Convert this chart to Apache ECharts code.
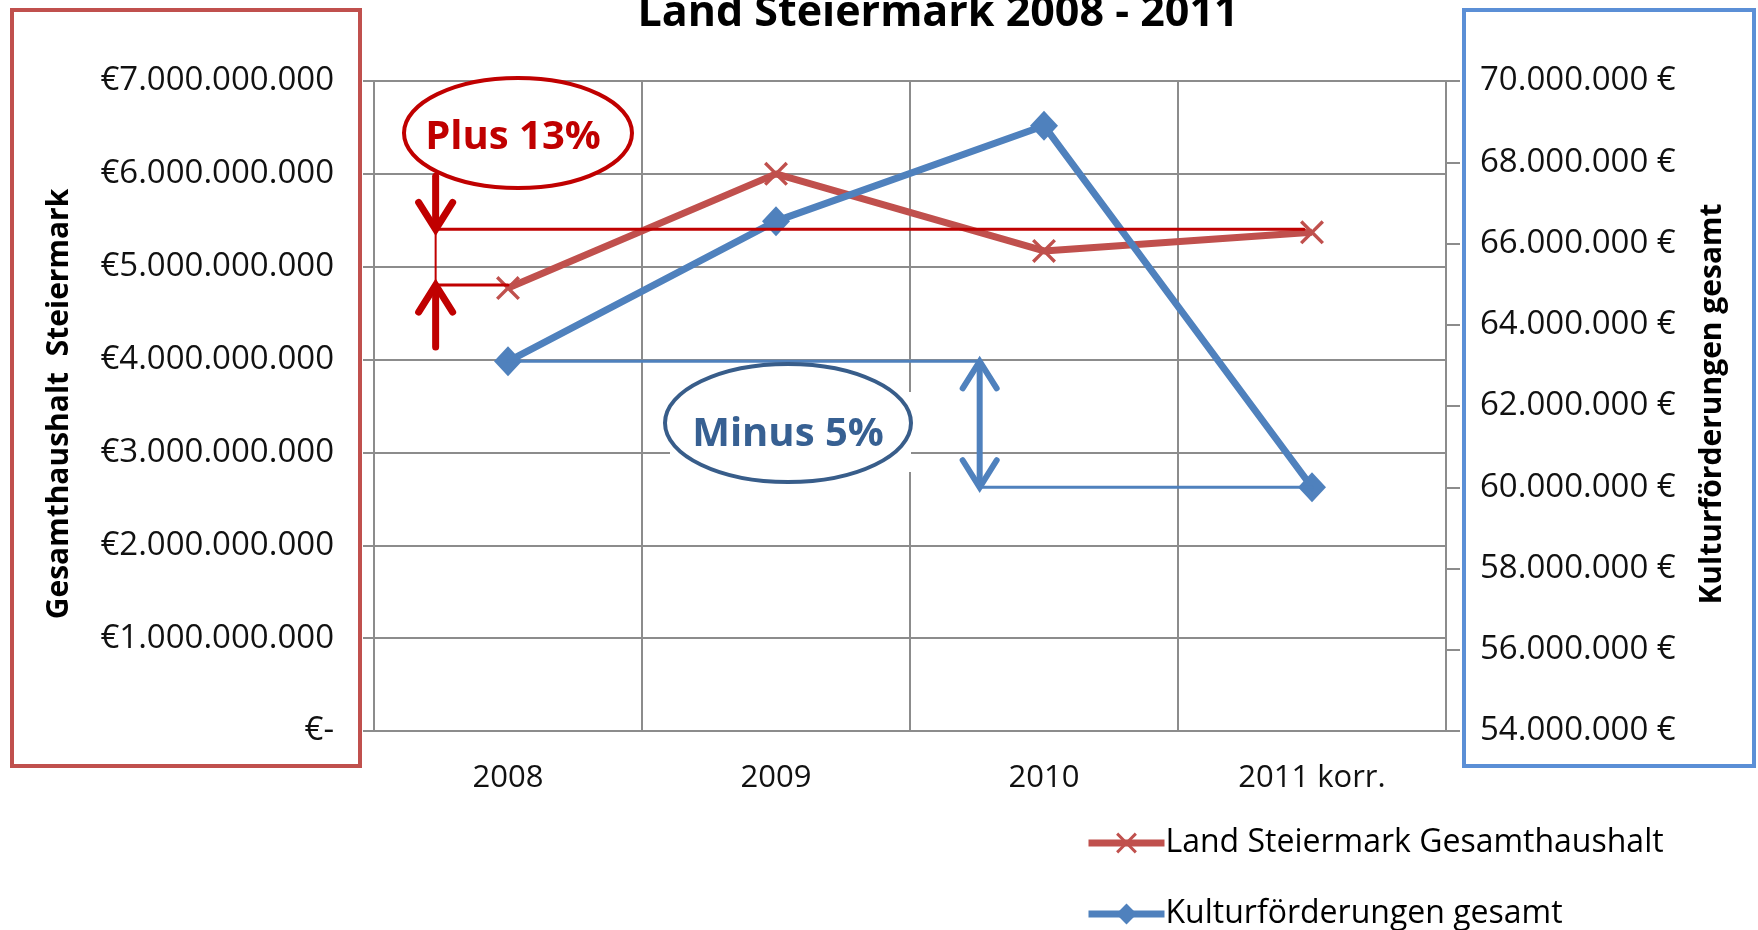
<!DOCTYPE html>
<html>
<head>
<meta charset="utf-8">
<script src="https://cdn.jsdelivr.net/npm/echarts@6/dist/echarts.min.js"></script>
<style>
    html, body { margin: 0; padding: 0; background: #fff; }
    #chart { width: 1758px; height: 930px; }
</style>
</head>
<body>
<div id="chart"></div>
<script>
// Daten
const categories = ['2008', '2009', '2010', '2011 korr.']
const haushalt = [4770000000, 6000000000, 5170000000, 5370000000]
const kultur = [63100000, 66550000, 68900000, 60000000]
const leftAxisRange = [0, 7000000000, 1000000000]
const rightAxisRange = [54000000, 70000000, 2000000]
const seriesNames = ['Land Steiermark Gesamthaushalt', 'Kulturförderungen gesamt']
const axisNames = ['Gesamthaushalt  Steiermark', 'Kulturförderungen gesamt']
const notes = ['Plus 13%', 'Minus 5%']

const FONT = 'Open Sans'
const RED = '#C0504D'
const BLUE = '#4F81BD'
const GRID = '#8C8C8C'

function dots(n) {
    return String(n).replace(/\B(?=(\d{3})+(?!\d))/g, '.')
}

const chart = echarts.init(document.getElementById('chart'))

const legendBase = {
    left: 1080,
    itemWidth: 76,
    itemHeight: 26,
    lineStyle: { width: 7 },
    textStyle: { fontSize: 32, color: '#000', fontFamily: FONT, padding: [0, 0, 0, -4] }
}

chart.setOption({
    animation: false,
    backgroundColor: '#fff',
    textStyle: { fontFamily: FONT },
    grid: { left: 374, right: 312, top: 81, bottom: 199 },
    legend: [
        Object.assign({ top: 822, data: [seriesNames[0]] }, legendBase),
        Object.assign({ top: 893, data: [seriesNames[1]] }, legendBase)
    ],
    xAxis: {
        type: 'category',
        data: categories,
        boundaryGap: true,
        axisLine: { lineStyle: { color: GRID, width: 2 } },
        axisTick: { show: false },
        splitLine: { show: true, lineStyle: { color: GRID, width: 2 } },
        axisLabel: { fontSize: 31, color: '#111', margin: 32, fontFamily: FONT }
    },
    yAxis: [{
        type: 'value',
        min: leftAxisRange[0],
        max: leftAxisRange[1],
        interval: leftAxisRange[2],
        axisLine: { show: true, lineStyle: { color: GRID, width: 2 } },
        axisTick: { show: true, length: 11, lineStyle: { color: GRID, width: 2 } },
        splitLine: { lineStyle: { color: GRID, width: 2 } },
        axisLabel: {
            fontSize: 33, color: '#111', margin: 40, fontFamily: FONT,
            formatter: v => v === 0 ? '€-' : '€' + dots(v)
        }
    }, {
        type: 'value',
        min: rightAxisRange[0],
        max: rightAxisRange[1],
        interval: rightAxisRange[2],
        axisLine: { show: true, lineStyle: { color: GRID, width: 2 } },
        axisTick: { show: true, length: 14, lineStyle: { color: GRID, width: 2 } },
        splitLine: { show: false },
        axisLabel: {
            fontSize: 33, color: '#111', margin: 34, fontFamily: FONT,
            formatter: v => dots(v) + ' €'
        }
    }],
    series: [{
        name: seriesNames[0],
        type: 'line',
        yAxisIndex: 0,
        data: haushalt,
        symbol: 'path://M0,1L1,0L5,4L9,0L10,1L6,5L10,9L9,10L5,6L1,10L0,9L4,5Z',
        symbolSize: 24,
        lineStyle: { color: RED, width: 7 },
        itemStyle: { color: RED },
        z: 3
    }, {
        name: seriesNames[1],
        type: 'line',
        yAxisIndex: 1,
        data: kultur,
        symbol: 'diamond',
        symbolSize: [28, 30],
        lineStyle: { color: BLUE, width: 7 },
        itemStyle: { color: BLUE },
        z: 3
    }]
})

// Hilfslinien und Beschriftungen
function xAt(idx) {
    const i = Math.floor(idx)
    const a = chart.convertToPixel({ xAxisIndex: 0 }, i)
    const b = chart.convertToPixel({ xAxisIndex: 0 }, i + 1)
    return a + (b - a) * (idx - i)
}
function yLeft(v) { return chart.convertToPixel({ yAxisIndex: 0 }, v) }
function yRight(v) { return chart.convertToPixel({ yAxisIndex: 1 }, v) }

function line(x1, y1, x2, y2, color, w) {
    return { type: 'line', z: 10, shape: { x1, y1, x2, y2 }, style: { stroke: color, lineWidth: w, lineCap: 'round' } }
}
function head(x, y, dir, color, w) {
    // dir 1 = Spitze unten, -1 = Spitze oben
    return {
        type: 'polyline', z: 10,
        shape: { points: [[x - 17, y - dir * 27], [x, y], [x + 17, y - dir * 27]] },
        style: { stroke: color, lineWidth: w, lineCap: 'round', lineJoin: 'miter', fill: null }
    }
}

const xr = xAt(-0.27)
const yTop = yLeft(haushalt[3]) - 3
const yLow = yLeft(haushalt[0]) - 3
const xb = xAt(1.76)
const yB1 = yRight(kultur[0])
const yB2 = yRight(kultur[3])

chart.setOption({
    graphic: [
        // Rahmen
        { type: 'rect', z: 1, shape: { x: 12, y: 10, width: 348, height: 756 }, style: { fill: null, stroke: RED, lineWidth: 4 } },
        { type: 'rect', z: 1, shape: { x: 1464, y: 10, width: 290, height: 756 }, style: { fill: null, stroke: '#5B8FD6', lineWidth: 4 } },
        // Titel
        { type: 'text', z: 10, x: 938, y: 35, style: { text: 'Land Steiermark 2008 - 2011', font: 'bold 43px "' + FONT + '"', fill: '#000', align: 'center', verticalAlign: 'bottom' } },
        // Achsentitel
        { type: 'text', z: 10, x: 59, y: 404, rotation: Math.PI / 2, style: { text: axisNames[0], font: 'bold 30px "' + FONT + '"', fill: '#000', align: 'center', verticalAlign: 'middle' } },
        { type: 'text', z: 10, x: 1712, y: 404, rotation: Math.PI / 2, style: { text: axisNames[1], font: 'bold 30px "' + FONT + '"', fill: '#000', align: 'center', verticalAlign: 'middle' } },
        // Plus 13%
        line(xr, yTop, xAt(3) - 8, yTop, '#C00000', 3),
        line(xr, yLow, xAt(0), yLow, '#C00000', 3),
        line(xr, yTop, xr, yLow, '#C00000', 2),
        line(xr, yTop - 53, xr, yTop - 3, '#C00000', 7),
        head(xr, yTop, 1, '#C00000', 7),
        line(xr, yLow + 3, xr, yLow + 62, '#C00000', 7),
        head(xr, yLow, -1, '#C00000', 7),
        { type: 'ellipse', z: 10, shape: { cx: 518, cy: 133, rx: 114, ry: 55 }, style: { fill: '#fff', stroke: '#C00000', lineWidth: 4 } },
        { type: 'text', z: 11, x: 513, y: 138, style: { text: notes[0], font: 'bold 40px "' + FONT + '"', fill: '#C00000', align: 'center', verticalAlign: 'middle' } },
        // Minus 5%
        line(xAt(0), yB1, xb, yB1, BLUE, 3),
        line(xb, yB2, xAt(3), yB2, BLUE, 3),
        line(xb, yB1 + 3, xb, yB2 - 3, BLUE, 6),
        head(xb, yB1, -1, BLUE, 6),
        head(xb, yB2, 1, BLUE, 6),
        { type: 'rect', z: 9, shape: { x: 670, y: 392, width: 241, height: 80 }, style: { fill: '#fff' } },
        { type: 'ellipse', z: 10, shape: { cx: 788, cy: 423, rx: 123, ry: 59 }, style: { fill: '#fff', stroke: '#385D8A', lineWidth: 4 } },
        { type: 'text', z: 11, x: 788, y: 435, style: { text: notes[1], font: 'bold 40px "' + FONT + '"', fill: '#376092', align: 'center', verticalAlign: 'middle' } }
    ]
})
</script>
</body>
</html>
